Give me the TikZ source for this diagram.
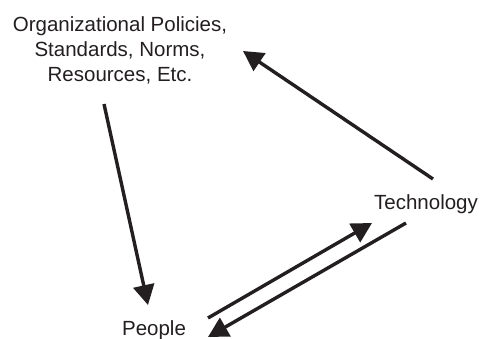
\documentclass[tikz,border=0pt]{standalone}
\usepackage{fontspec}
\setmainfont{Liberation Sans}
\usetikzlibrary{arrows.meta}
\definecolor{ink}{HTML}{231F20}
\begin{document}
\begin{tikzpicture}[x=1pt,y=-1pt,
  label/.style={inner sep=0pt, text=ink, align=center,
    font=\fontsize{20.5}{25}\selectfont},
  link/.style={draw=ink, line width=3.4pt,
    -{Triangle[length=20pt,width=21pt]}}]
\useasboundingbox (0,0) rectangle (482,339);
% labels (multi-line base anchor sits on the last line)
\node[label, anchor=base] (org) at (120,82)
  {Organizational Policies,\\Standards, Norms,\\Resources, Etc.};
\node[label, anchor=base] (tech) at (426,210) {Technology};
\node[label, anchor=base] (people) at (154,335) {People};
% arrow end points
\coordinate (orgOut) at (104,104);
\coordinate (peopleIn) at (148,305);
\coordinate (techOut) at (433,179);
\coordinate (orgIn) at (243,51);
\coordinate (peopleOut) at (208,318);
\coordinate (techIn) at (372,223);
\coordinate (techOut2) at (406,223);
\coordinate (peopleIn2) at (208,337);
% influences
\draw[link] (orgOut) -- (peopleIn);
\draw[link] (techOut) -- (orgIn);
\draw[link] (peopleOut) -- (techIn);
\draw[link] (techOut2) -- (peopleIn2);
\end{tikzpicture}
\end{document}
